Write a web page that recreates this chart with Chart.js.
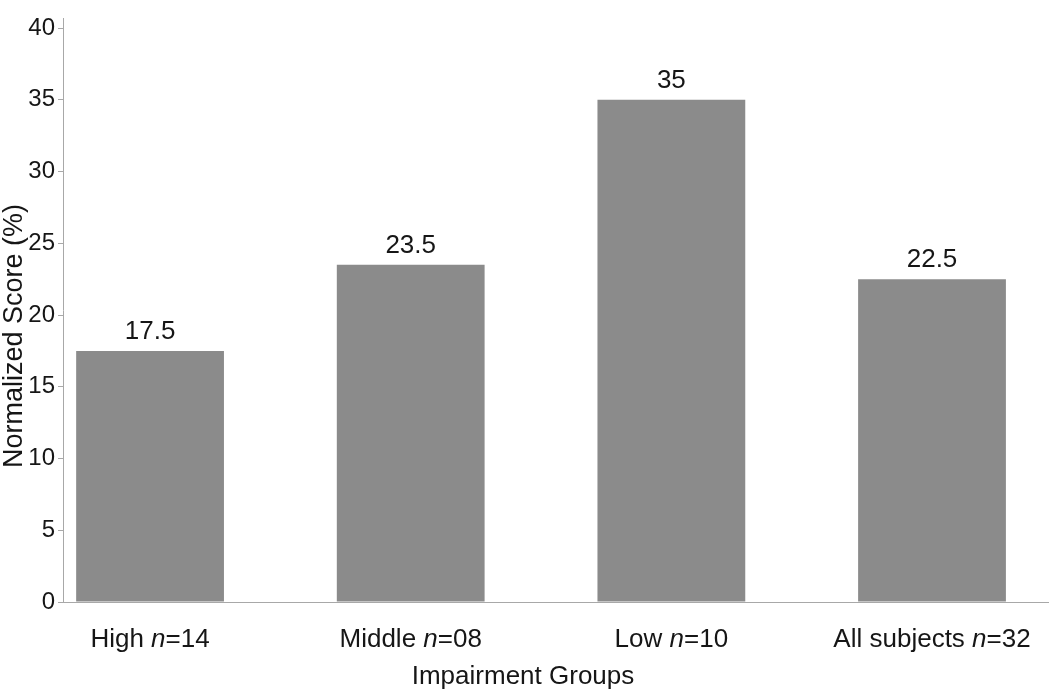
<!DOCTYPE html>
<html>
<head>
<meta charset="utf-8">
<script src="https://cdn.jsdelivr.net/npm/chart.js@4/dist/chart.umd.min.js"></script>
<style>
  html, body { margin: 0; padding: 0; background: #fff; }
  #wrap { width: 1050px; height: 691px; }
</style>
</head>
<body>
<div id="wrap"><canvas id="chart"></canvas></div>
<script>
var groups = ['High', 'Middle', 'Low', 'All subjects'];
var groupN = ['14', '08', '10', '32'];
var scores = [17.5, 23.5, 35, 22.5];
var yTicks = [0, 5, 10, 15, 20, 25, 30, 35, 40];

var FONT = '"Liberation Sans", Arial, sans-serif';
var TEXT = '#161616';

// x tick labels (with italic n), axis titles and value labels above the bars
var labelPlugin = {
  id: 'labels',
  afterDraw: function(chart) {
    var ctx = chart.ctx;
    var xs = chart.scales.x;
    var meta = chart.getDatasetMeta(0);
    ctx.save();
    ctx.fillStyle = TEXT;
    ctx.textBaseline = 'alphabetic';

    // values above bars
    ctx.font = '26px ' + FONT;
    ctx.textAlign = 'center';
    meta.data.forEach(function(bar, i) {
      ctx.fillText(String(scores[i]), bar.x, bar.y - 12);
    });

    // category labels
    ctx.textAlign = 'left';
    groups.forEach(function(g, i) {
      var parts = [
        {t: g + ' ', f: '26px ' + FONT},
        {t: 'n', f: 'italic 26px ' + FONT},
        {t: '=' + groupN[i], f: '26px ' + FONT}
      ];
      var w = 0;
      parts.forEach(function(p) { ctx.font = p.f; w += ctx.measureText(p.t).width; });
      var x = xs.getPixelForValue(i) - w / 2;
      parts.forEach(function(p) {
        ctx.font = p.f;
        ctx.fillText(p.t, x, 647);
        x += ctx.measureText(p.t).width;
      });
    });

    // x axis title
    ctx.textAlign = 'center';
    ctx.font = '26px ' + FONT;
    ctx.fillText('Impairment Groups', 523, 684);

    // y axis title
    ctx.translate(15, 336);
    ctx.rotate(-Math.PI / 2);
    ctx.textBaseline = 'middle';
    ctx.font = '27px ' + FONT;
    ctx.fillText('Normalized Score (%)', 0, 0);
    ctx.restore();
  }
};

var ctx = document.getElementById('chart').getContext('2d');
var mychart = new Chart(ctx, {
  type: 'bar',
  data: {
    datasets: [{
      data: scores.map(function(v, i) { return {x: i, y: v}; }),
      backgroundColor: '#8b8b8b',
      borderWidth: 0,
      barPercentage: 0.567,
      categoryPercentage: 1
    }]
  },
  options: {
    responsive: true,
    maintainAspectRatio: false,
    animation: false,
    layout: { padding: { top: 18, right: 2, left: 0, bottom: 0 } },
    plugins: { legend: { display: false }, tooltip: { enabled: false } },
    scales: {
      x: {
        type: 'linear',
        offset: false,
        min: -0.334,
        max: 3.445,
        afterBuildTicks: function(scale) {
          scale.ticks = groups.map(function(g, i) { return {value: i}; });
        },
        grid: { display: true, drawOnChartArea: false, drawTicks: false },
        border: { display: true, color: '#a8a8a8', width: 1 },
        ticks: { display: false },
        afterFit: function(scale) { scale.height = 89; }
      },
      y: {
        min: 0,
        max: 40.7,
        grid: { display: true, drawOnChartArea: false, drawTicks: true, tickLength: 5, color: '#a8a8a8' },
        border: { display: true, color: '#a8a8a8', width: 1 },
        afterBuildTicks: function(scale) {
          scale.ticks = yTicks.map(function(v) { return {value: v}; });
        },
        ticks: {
          color: TEXT,
          padding: 3,
          font: { family: FONT, size: 24 }
        },
        afterFit: function(scale) { scale.width = 63; }
      }
    }
  },
  plugins: [labelPlugin]
});
</script>
</body>
</html>
